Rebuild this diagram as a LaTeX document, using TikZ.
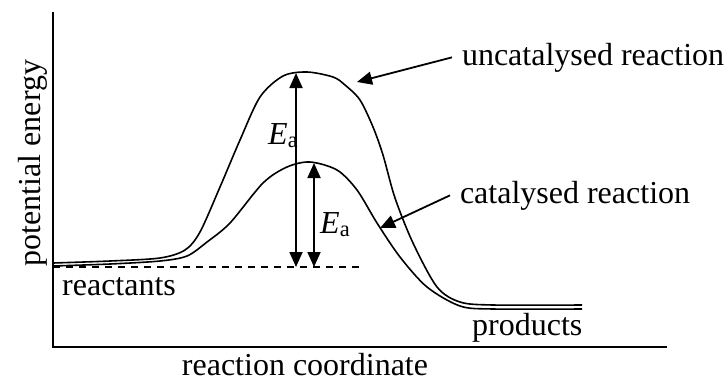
\documentclass[tikz,border=0pt]{standalone}
\usepackage{fontspec}
\setmainfont{Liberation Serif}
\usetikzlibrary{arrows.meta}

\begin{document}
\begin{tikzpicture}[x=1pt, y=-1pt,
   txt/.style={inner sep=0pt, font=\fontsize{32}{38}\selectfont},
   pointer/.style={txt, outer xsep=10pt, outer ysep=0pt, anchor=base west},
   curve/.style={line width=1.6pt, line join=round},
   >={Triangle[length=15pt, width=13pt]}]
  \useasboundingbox (0,0) rectangle (727,381);

  \coordinate (ytop) at (53,12);
  \coordinate (origin) at (53,347);
  \coordinate (xend) at (667,347);
  \draw[line width=1.9pt] (ytop) -- (origin) -- (xend);
  \node[txt, rotate=90, anchor=base] (ylab) at (40,163) {potential energy};
  \node[txt, anchor=base] (xlab) at (305,375) {reaction coordinate};

  \coordinate (rstart) at (53,267);
  \coordinate (rend) at (364,267);
  \draw[line width=1.4pt, dash pattern=on 7pt off 6pt] (rstart) -- (rend);
  \node[txt, anchor=base west] (react) at (62,295) {reactants};
  \node[txt, anchor=base west] (prod) at (472,335) {products};

  % uncatalysed path
  \draw[curve] plot[smooth, tension=0.5] coordinates {(53,263) (110,261)
    (160,258) (185,250) (200,232) (220,187) (240,140) (260,97) (283,76)
    (307,72) (333,77) (345,85) (360,100) (373,127) (383,155) (395,198)
    (413,243) (437,287) (460,302) (493,305) (582,305)};
  % catalysed path
  \draw[curve] plot[smooth, tension=0.5] coordinates {(53,266) (110,264)
    (160,261) (187,256) (207,242) (230,223) (263,183) (287,167) (310,162)
    (337,170) (357,190) (377,223) (400,257) (427,287) (460,306) (493,309)
    (582,309)};

  \coordinate (unpeak) at (296,73);
  \coordinate (unbase) at (296,267);
  \coordinate (capeak) at (314,163);
  \coordinate (cabase) at (314,267);
  \draw[<->, line width=1.8pt] (unbase) -- (unpeak);
  \draw[<->, line width=1.8pt] (cabase) -- (capeak);
  \node[txt, anchor=base west] (eaun) at (268,144) {\textit{E}\textsubscript{a}};
  \node[txt, anchor=base west] (eaca) at (320,233) {\textit{E}\textsubscript{a}};

  \node[pointer] (uncat) at (452,65) {uncatalysed reaction};
  \node[pointer] (cat) at (450,203) {catalysed reaction};
  \coordinate (untip) at (357,82);
  \coordinate (catip) at (380,228);
  \draw[->, line width=1.8pt] (uncat.west) -- (untip);
  \draw[->, line width=1.8pt] (cat.west) -- (catip);
\end{tikzpicture}
\end{document}
